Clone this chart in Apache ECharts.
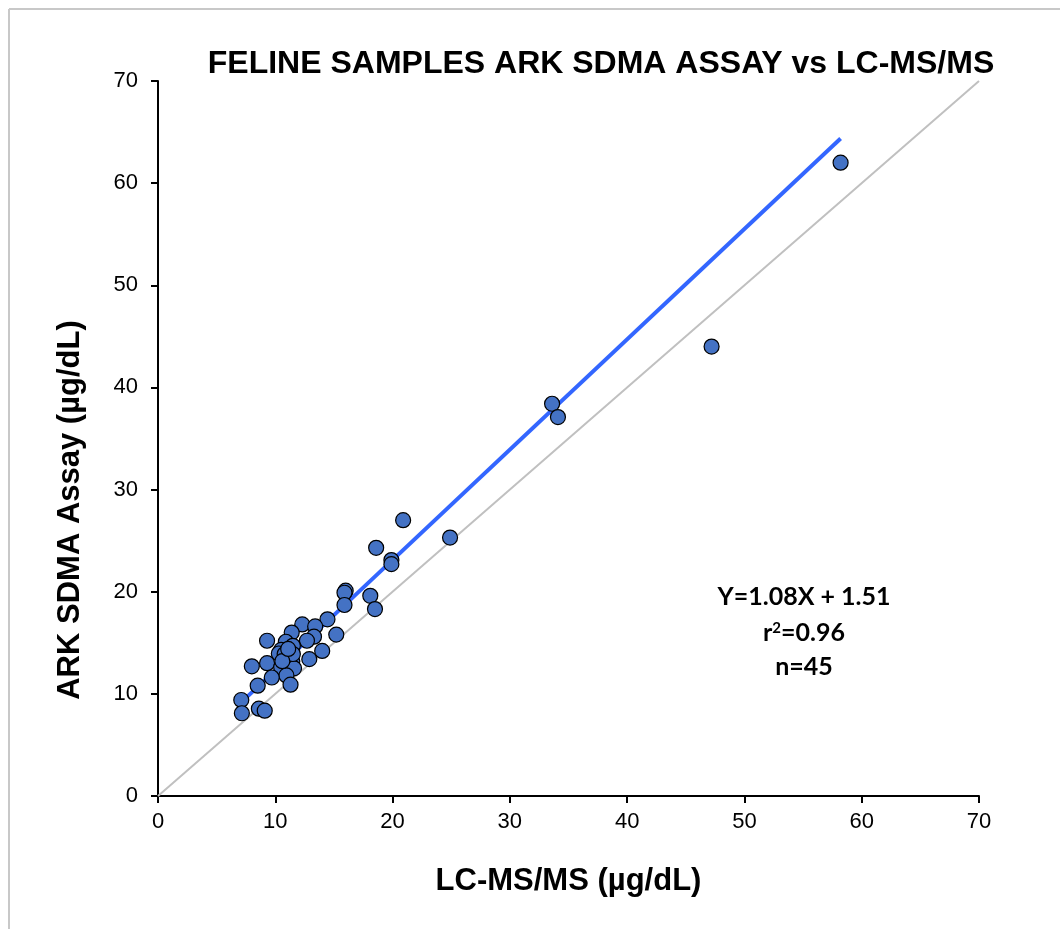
<!DOCTYPE html>
<html><head><meta charset="utf-8">
<script src="https://cdn.jsdelivr.net/npm/echarts@6/dist/echarts.min.js"></script>
<style>html,body{margin:0;padding:0;background:#fff}#c{width:1060px;height:929px}</style>
</head><body><div id="c"></div>
<script>
const lcms = [58.2,47.2,33.6,34.1,24.9,20.9,18.6,19.9,19.9,16.0,15.9,15.9,18.1,18.5,
  14.45,12.3,13.4,11.4,15.2,13.3,9.3,12.7,10.9,11.5,14.0,10.5,10.3,10.8,12.9,11.45,9.3,8.0,10.5,11.6,10.95,9.7,11.3,8.5,7.1,7.15,8.6,9.1,11.5,10.6,11.1];
const ark = [62.0,44.0,38.4,37.1,25.3,27.0,24.3,23.1,22.7,20.1,19.9,18.7,19.6,18.3,
  17.3,16.8,16.6,16.0,15.8,15.6,15.2,15.2,15.1,14.7,14.2,14.3,13.95,13.9,13.4,13.2,13.0,12.7,12.6,12.5,11.8,11.6,10.9,10.8,9.4,8.1,8.55,8.35,13.9,13.2,14.4];
const slope = 1.08, intercept = 1.51;
const fitX = [7.07, 58.2];
const identity = [[0,0],[70,70]];
const title = 'FELINE SAMPLES ARK SDMA ASSAY vs LC-MS/MS';
const xName = 'LC-MS/MS (µg/dL)';
const yName = 'ARK SDMA Assay (µg/dL)';

const pts = lcms.map((x,i)=>[x, ark[i]]);
const fit = fitX.map(x=>[x, slope*x+intercept]);

const chart = echarts.init(document.getElementById('c'));
const F = '"Liberation Sans", Arial, sans-serif';
const N = 'Lato, "Open Sans", sans-serif';
const noteStyle = {fontFamily:N,fontWeight:'bold',fontSize:25,fill:'#000',textAlign:'center',textVerticalAlign:'middle'};
chart.setOption({
  animation:false,
  title:{text:title,left:596,top:43,textAlign:'center',
    textStyle:{fontFamily:F,fontWeight:'bold',fontSize:32,color:'#000'}},
  grid:{left:158,right:81,top:81,bottom:133},
  xAxis:{type:'value',min:0,max:70,interval:10,
    name:xName,nameLocation:'middle',nameGap:70,
    nameTextStyle:{fontFamily:F,fontWeight:'bold',fontSize:31,color:'#000'},
    axisLine:{show:true,lineStyle:{color:'#000',width:2}},
    axisTick:{show:true,length:7,lineStyle:{color:'#000',width:2}},
    axisLabel:{fontFamily:F,fontSize:22,color:'#000',margin:15},
    splitLine:{show:false}},
  yAxis:{type:'value',min:0,max:70,interval:10,
    axisLine:{show:true,lineStyle:{color:'#000',width:2}},
    axisTick:{show:true,length:7,lineStyle:{color:'#000',width:2}},
    axisLabel:{fontFamily:F,fontSize:22,color:'#000',margin:20},
    splitLine:{show:false}},
  graphic:[
    {type:'line',shape:{x1:9,y1:9,x2:1060,y2:9},style:{stroke:'#c8c8c8',lineWidth:2},silent:true},
    {type:'line',shape:{x1:9,y1:9,x2:9,y2:929},style:{stroke:'#c8c8c8',lineWidth:2},silent:true},
    {type:'text',x:70,y:510,rotation:Math.PI/2,
      style:{text:yName,fontFamily:F,fontWeight:'bold',fontSize:31,fill:'#000',textAlign:'center',textVerticalAlign:'middle'}},
    {type:'text',x:804,y:597,style:Object.assign({text:'Y=1.08X + 1.51'},noteStyle)},
    {type:'text',x:804,y:633,style:Object.assign({text:'{a|r}{s|2}{a|=0.96}',rich:{
        a:{fontFamily:N,fontWeight:'bold',fontSize:25,fill:'#000'},
        s:{fontFamily:N,fontWeight:'bold',fontSize:15,fill:'#000',verticalAlign:'top',padding:[0,0,8,0]}}},noteStyle)},
    {type:'text',x:804,y:667,style:Object.assign({text:'n=45'},noteStyle)}
  ],
  series:[
    {type:'line',data:identity,symbol:'none',lineStyle:{color:'#c0c0c0',width:2},z:1,silent:true},
    {type:'line',data:fit,symbol:'none',lineStyle:{color:'#3366ff',width:4},z:2,silent:true},
    {type:'scatter',data:pts,symbol:'circle',symbolSize:15,
      itemStyle:{color:'#4472C4',borderColor:'#000',borderWidth:1.2,opacity:1},z:3}
  ]
});
</script></body></html>
